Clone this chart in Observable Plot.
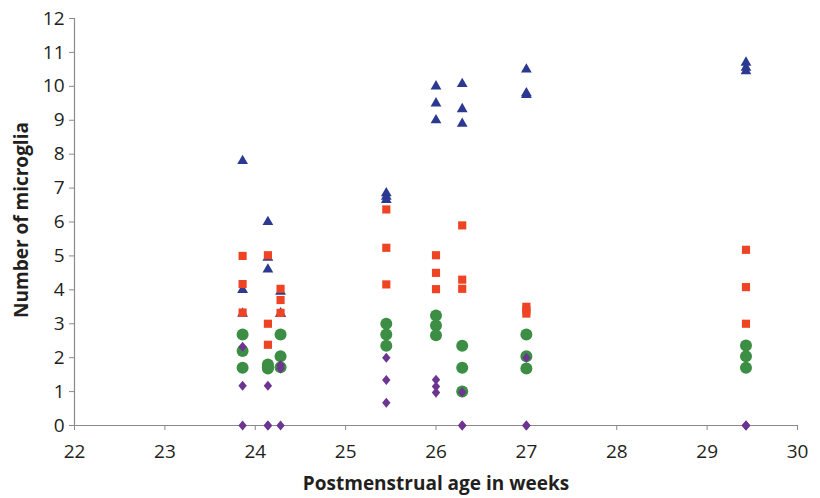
<!DOCTYPE html>
<html>
<head>
<meta charset="utf-8">
<script src="https://cdn.jsdelivr.net/npm/d3@7"></script>
<script src="https://cdn.jsdelivr.net/npm/@observablehq/plot@0.6"></script>
<style>
  html, body { margin: 0; padding: 0; background: #ffffff; }
</style>
</head>
<body>
<div id="chart"></div>
<script>
// Postmenstrual ages (weeks) of the samples
const ages = [23.86, 24.14, 24.28, 25.45, 26.0, 26.29, 27.0, 29.43];

// Number of microglia, three readings per age, per series
const triangleValues = [[7.8, 4.0, 3.3], [6.0, 4.95, 4.6], [3.95, 3.3, 3.3], [6.85, 6.75, 6.65], [10.0, 9.5, 9.0], [10.07, 9.33, 8.9], [10.5, 9.8, 9.75], [10.7, 10.55, 10.45]];
const squareValues = [[5.0, 4.17, 3.33], [5.02, 3.0, 2.38], [4.03, 3.7, 3.32], [6.37, 5.24, 4.16], [5.02, 4.5, 4.02], [5.9, 4.3, 4.03], [3.5, 3.4, 3.3], [5.18, 4.08, 3.0]];
const circleValues = [[2.68, 2.2, 1.7], [1.8, 1.72, 1.68], [2.68, 2.04, 1.72], [3.0, 2.68, 2.35], [3.24, 2.95, 2.66], [2.35, 1.7, 1.0], [2.68, 2.04, 1.68], [2.36, 2.04, 1.7]];
const diamondValues = [[2.32, 1.17, 0], [1.17, 0, 0], [1.78, 1.68, 0], [2.0, 1.34, 0.67], [1.35, 1.15, 0.97], [0.98, 0, 0], [2.0, 0, 0], [0, 0, 0]];

const xTicks = [22, 23, 24, 25, 26, 27, 28, 29, 30];
const yTicks = [0, 1, 2, 3, 4, 5, 6, 7, 8, 9, 10, 11, 12];
const xTitle = "Postmenstrual age in weeks";
const yTitle = "Number of microglia";

const toRows = (vals) => ages.flatMap((a, i) => vals[i].map(v => ({age: a, value: v})));

// Slightly tall diamond marker
const tallDiamond = {
  draw(context, size) {
    const r = Math.sqrt(size / Math.PI);
    context.moveTo(0, -r * 1.2);
    context.lineTo(r, 0);
    context.lineTo(0, r * 1.2);
    context.lineTo(-r, 0);
    context.closePath();
  }
};

const gray = "#8a8a8a";
const chart = Plot.plot({
  width: 820,
  height: 498,
  marginLeft: 74,
  marginRight: 23,
  marginTop: 18,
  marginBottom: 73,
  x: {domain: [22, 30]},
  y: {domain: [0, 12]},
  style: {fontFamily: "'Open Sans', sans-serif", fontSize: "19px", color: "#231f20", background: "#ffffff"},
  marks: [
    Plot.axisX({ticks: xTicks, tickSize: 5, tickPadding: 14, stroke: gray, label: null, tickFormat: d => String(d)}),
    Plot.axisY({ticks: yTicks, tickSize: 5, tickPadding: 5, stroke: gray, label: null, tickFormat: d => String(d)}),
    Plot.ruleY([0], {stroke: gray, strokeWidth: 1.2}),
    Plot.ruleX([22], {stroke: gray, strokeWidth: 1.2}),
    Plot.dot(toRows(triangleValues), {x: "age", y: "value", symbol: "triangle", r: 4, fill: "#2b3990", stroke: "none"}),
    Plot.dot(toRows(squareValues), {x: "age", y: "value", symbol: "square", r: 4.6, fill: "#ee4423", stroke: "none"}),
    Plot.dot(toRows(circleValues), {x: "age", y: "value", symbol: "circle", r: 6, fill: "#3b8e43", stroke: "none"}),
    Plot.dot(toRows(diamondValues), {x: "age", y: "value", symbol: tallDiamond, r: 4.2, fill: "#6c3591", stroke: "none"}),
    Plot.text([xTitle], {text: d => d, frameAnchor: "bottom", textAnchor: "middle", lineAnchor: "middle", dy: 58, fontWeight: "bold", fontSize: 19, fill: "#231f20"}),
    Plot.text([yTitle], {text: d => d, frameAnchor: "left", textAnchor: "middle", lineAnchor: "middle", rotate: -90, dx: -53, dy: -2, fontWeight: "bold", fontSize: 19, fill: "#231f20"})
  ]
});
document.getElementById("chart").appendChild(chart);
</script>
</body>
</html>
